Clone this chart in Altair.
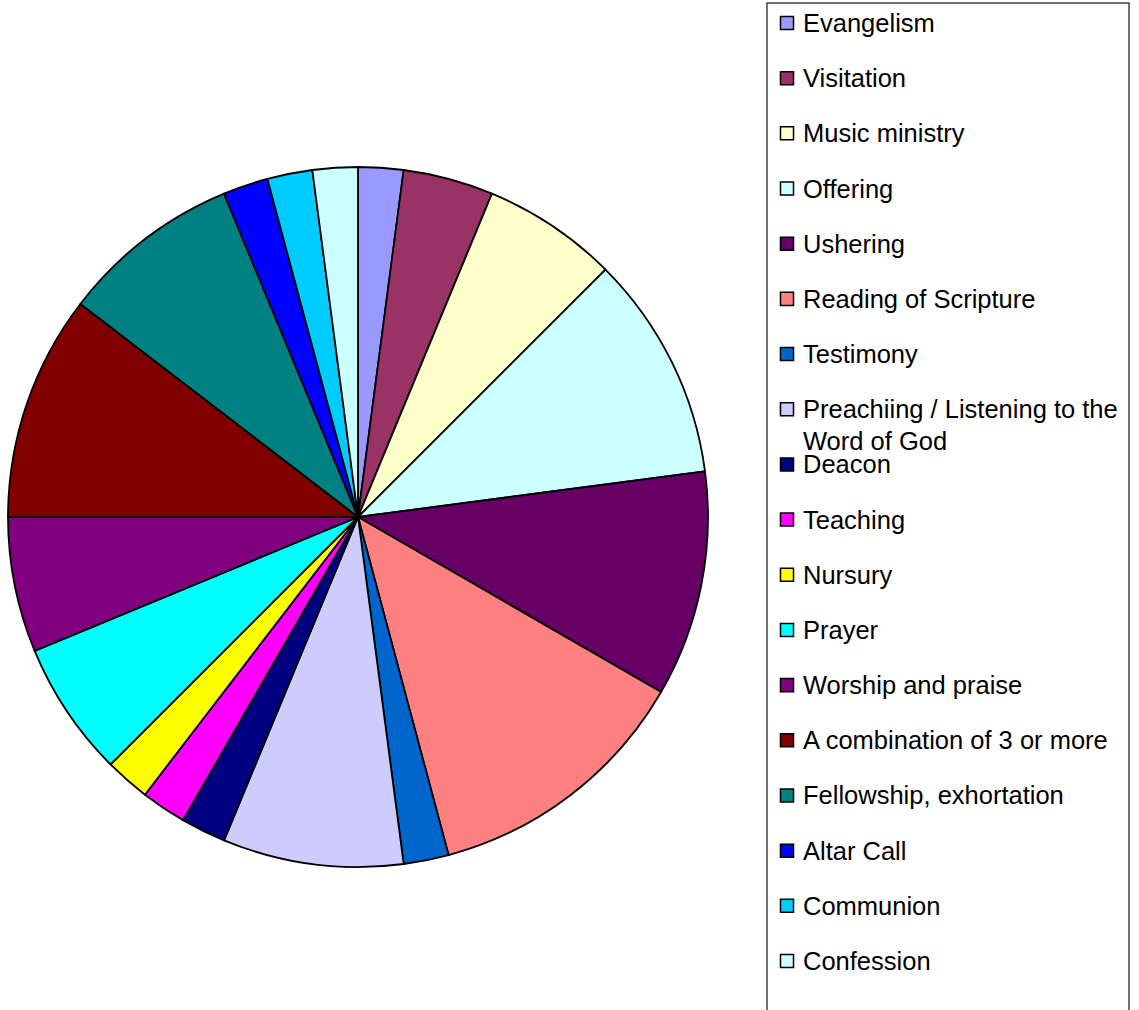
import altair as alt
import pandas as pd

categories = [
    "Evangelism", "Visitation", "Music ministry", "Offering", "Ushering",
    "Reading of Scripture", "Testimony", "Preachiing / Listening to the\nWord of God",
    "Deacon", "Teaching", "Nursury", "Prayer", "Worship and praise",
    "A combination of 3 or more", "Fellowship, exhortation", "Altar Call",
    "Communion", "Confession",
]
values = [1, 2, 3, 5, 5, 6, 1, 4, 1, 1, 1, 3, 3, 5, 4, 1, 1, 1]
colors = [
    "#9999FF", "#993366", "#FFFFCC", "#CCFFFF", "#660066", "#FF8080",
    "#0066CC", "#CCCCFF", "#000080", "#FF00FF", "#FFFF00", "#00FFFF",
    "#800080", "#800000", "#008080", "#0000FF", "#00CCFF", "#CCFFFF",
]

df = pd.DataFrame({
    "cat": categories,
    "value": values,
    "idx": list(range(len(categories))),
})

color_scale = alt.Scale(domain=categories, range=colors)

pie = alt.Chart(df).mark_arc(
    outerRadius=350, stroke="black", strokeWidth=1.8
).encode(
    theta=alt.Theta("value:Q", stack=True),
    order=alt.Order("idx:Q"),
    color=alt.Color("cat:N", scale=color_scale, legend=None),
    x=alt.value(358),
    y=alt.value(517),
)

frame = alt.Chart(pd.DataFrame({"a": [0]})).mark_rect(
    filled=False, stroke="#404040", strokeWidth=1.5
).encode(
    x=alt.value(767), x2=alt.value(1129), y=alt.value(3), y2=alt.value(1030)
)

yscale = alt.Scale(domain=[0, len(categories) - 1], range=[23, 961])

swatches = alt.Chart(df).mark_square(
    size=170, stroke="black", strokeWidth=1.5, opacity=1
).encode(
    x=alt.value(787),
    y=alt.Y("idx:Q", scale=yscale, axis=None),
    color=alt.Color("cat:N", scale=color_scale, legend=None),
)

labels = alt.Chart(df).mark_text(
    align="left", baseline="top", fontSize=25.5, font="Liberation Sans",
    lineBreak="\n", lineHeight=32, dy=-11, color="black"
).encode(
    x=alt.value(803),
    y=alt.Y("idx:Q", scale=yscale, axis=None),
    text="cat:N",
)

chart = alt.layer(pie, frame, swatches, labels).properties(
    width=1139, height=1010, padding=0,
    autosize=alt.AutoSizeParams(type="none"),
).configure_view(stroke=None)

chart.save("out.html", embed_options={"renderer": "svg", "actions": False})
